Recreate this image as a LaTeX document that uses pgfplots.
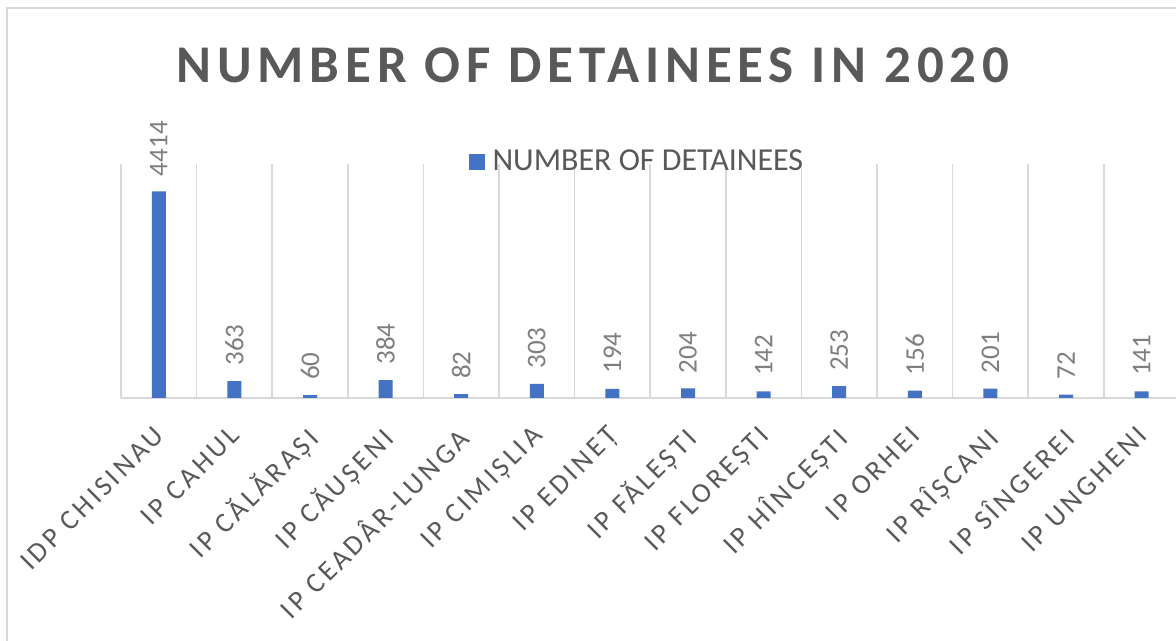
\documentclass[border=0pt]{standalone}
\usepackage{fontspec}
\setmainfont{Carlito}
\newfontfamily\titlefont[LetterSpace=11]{Carlito}
\newfontfamily\catfont[LetterSpace=12]{Carlito}
\newfontfamily\plainfont{Carlito}
\usepackage{pgfplots}
\pgfplotsset{compat=1.18}
\definecolor{barblue}{HTML}{4472C4}
\definecolor{gridgray}{HTML}{D9D9D9}
\definecolor{textgray}{HTML}{595959}
\definecolor{datagray}{HTML}{7F7F7F}
\begin{document}
\begin{tikzpicture}
\useasboundingbox (0,0) rectangle (588pt,320.5pt);
\fill[white] (0,0) rectangle (588pt,320.5pt);
\clip (0,0) rectangle (588pt,320.5pt);
% chart border
\draw[gridgray, line width=0.75pt] (3.5pt,-2pt) -- (3.5pt,316.5pt) -- (600pt,316.5pt);
% title
\node[inner sep=0pt, text=textgray, font=\titlefont\bfseries\fontsize{26.5pt}{30pt}\selectfont]
  at (296.5pt,288pt) {NUMBER OF DETAINEES IN 2020};
\begin{axis}[
  at={(60.5pt,121.5pt)}, anchor=south west,
  scale only axis, width=529.2pt, height=117pt,
  xmin=-0.5, xmax=13.5, ymin=0, ymax=5000,
  enlargelimits=false, clip=false,
  ybar, bar width=7pt,
  hide y axis,
  axis x line*=bottom,
  x axis line style={draw=gridgray, line width=0.75pt, -},
  xtick={0,...,13},
  xticklabels={IDP CHISINAU, IP CAHUL, IP CĂLĂRAȘI, IP CĂUȘENI, IP CEADÂR-LUNGA, IP CIMIȘLIA, IP EDINEȚ, IP FĂLEȘTI, IP FLOREȘTI, IP HÎNCEȘTI, IP ORHEI, IP RÎȘCANI, IP SÎNGEREI, IP UNGHENI},
  major tick length=0pt, minor tick length=0pt,
  minor xtick={-0.5,0.5,...,13.5},
  xminorgrids,
  minor grid style={draw=gridgray, line width=0.75pt},
  xticklabel style={font=\catfont\fontsize{14pt}{16pt}\selectfont, text=textgray, xshift=-3pt, yshift=-13pt, rotate=45, anchor=north east, inner sep=0pt},
  /pgf/number format/1000 sep={},
  /pgf/number format/assume math mode=true,
  nodes near coords,
  nodes near coords style={rotate=90, anchor=west, inner xsep=7.5pt, inner ysep=0pt, font=\plainfont\fontsize{13.5pt}{15pt}\selectfont, text=datagray},
  legend style={at={(0.328,1.0085)}, anchor=west, draw=none, fill=none, inner sep=0pt, font=\plainfont\fontsize{16pt}{18pt}\selectfont, text=textgray, /tikz/every even column/.append style={column sep=0pt}},
  legend image code/.code={\fill[barblue] (0pt,-4pt) rectangle (8pt,4pt);},
]
\addplot[fill=barblue, draw=none] coordinates {
  (0,4414) (1,363) (2,60) (3,384) (4,82) (5,303) (6,194)
  (7,204) (8,142) (9,253) (10,156) (11,201) (12,72) (13,141)
};
\addlegendentry{\hspace{2pt}NUMBER OF DETAINEES}
\end{axis}
\end{tikzpicture}
\end{document}
